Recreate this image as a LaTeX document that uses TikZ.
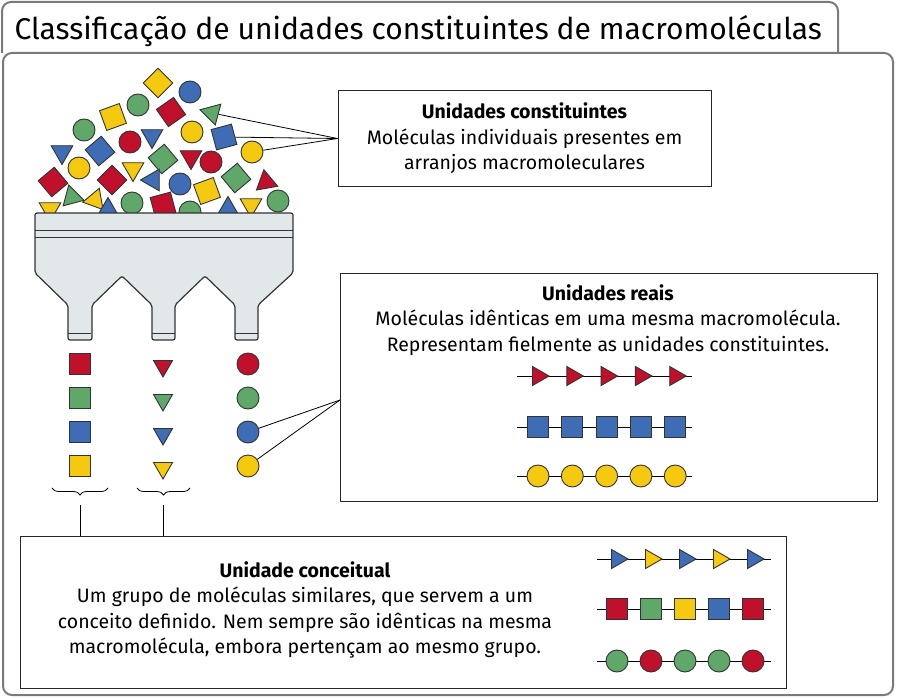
\documentclass[tikz,border=0pt]{standalone}
\usepackage{fontspec}
\setmainfont{Fira Sans}
\usetikzlibrary{shapes.geometric,decorations.pathreplacing}
\definecolor{cred}{HTML}{C0102C}
\definecolor{cgreen}{HTML}{5FA86A}
\definecolor{cblue}{HTML}{3E6DB5}
\definecolor{cyellow}{HTML}{F5C90F}
\definecolor{cfunnel}{HTML}{E2E7EA}
\definecolor{cframe}{HTML}{7A7A7A}
\begin{document}
\begin{tikzpicture}[x=1pt,y=-1pt,
    unit/.style={draw=black!80,line width=0.9pt,inner sep=0pt},
    dot/.style={unit,circle,minimum size=22pt},
    sqr/.style={unit,rectangle,minimum size=21pt},
    tri/.style={unit,regular polygon,regular polygon sides=3,minimum size=25pt},
    infobox/.style={draw=black!85,line width=1pt,inner sep=0pt},
    txt/.style={font={\fontsize{19.5}{25.5}\selectfont},align=center},
    chain/.style={line width=0.9pt}]
\useasboundingbox (0,0) rectangle (897,698);
% frame
\draw[cframe,line width=2pt,rounded corners=9] (2,53) -- (2,2) -- (838,2) -- (838,53);
\draw[cframe,line width=2pt,rounded corners=9] (3,53) -- (893,53) -- (893,695) -- (3,695) -- cycle;
\node[anchor=west,font={\fontsize{30}{32}\selectfont}] (title) at (11,31) {Classificação de unidades constituintes de macromoléculas};

% pile of units
\foreach \x/\y/\s/\c/\r in {
    158/83/sqr/cyellow/45, 190/92/dot/cblue/0, 138/105/dot/cgreen/0,
    171/112/sqr/cred/35, 113/117/sqr/cyellow/20, 84/130/dot/cgreen/0,
    152/136/tri/cblue/180, 192/132/dot/cyellow/0, 100/151/sqr/cblue/40,
    130/142/dot/cred/0, 62/152/tri/cblue/180, 163/159/sqr/cgreen/40,
    191/157/tri/cred/180, 211/162/dot/cred/0, 79/168/dot/cyellow/0,
    133/169/tri/cyellow/180, 53/182/sqr/cred/40, 112/180/sqr/cred/45,
    236/178/sqr/cgreen/40, 153/180/tri/cblue/-30, 180/184/dot/cblue/0,
    266/182/tri/cred/10, 207/191/sqr/cyellow/20, 72/197/tri/cgreen/15,
    95/200/tri/cyellow/-20, 132/203/dot/cgreen/0, 163/205/sqr/cred/15,
    278/201/dot/cgreen/0, 50/209/tri/cyellow/180, 108/210/tri/cblue/0,
    190/212/dot/cgreen/0, 228/209/tri/cblue/0, 251/205/tri/cyellow/180}
  \node[\s,fill=\c,rotate=\r] at (\x,\y) {};
\node[tri,fill=cgreen,rotate=195] (u1) at (212,113) {};
\node[sqr,fill=cblue,rotate=15] (u2) at (224,137) {};
\node[dot,fill=cyellow] (u3) at (252,152) {};

% funnel
\draw[fill=cfunnel,draw=black!80,line width=1.2pt,rounded corners=2]
  (35,213) -- (293,213) -- (293,273) -- (258,305) -- (258,340) -- (235,340)
  -- (235,305) -- (205,276) -- (175,305) -- (175,340) -- (152,340)
  -- (152,305) -- (122,276) -- (92,305) -- (92,340) -- (68,340)
  -- (68,305) -- (35,273) -- cycle;
\draw[black!80,line width=1pt] (35,230) -- (293,230) (35,237) -- (293,237);
\foreach \a in {68,152,235}
  \draw[black!80,line width=1pt] (\a,333) -- (\a+23,333);

% separated units
\foreach \c [count=\i] in {cred,cgreen,cblue,cyellow}{
  \node[sqr,fill=\c] (s\i) at (80,330+34*\i) {};
  \node[tri,fill=\c,rotate=180,minimum size=22pt] (t\i) at (163,332+34*\i) {};
  \node[dot,fill=\c] (c\i) at (248,330+34*\i) {};
}

% boxes
\node[infobox,minimum width=373pt,minimum height=95pt] (b1) at (524.5,138.5) {};
\node[txt] (b1text) at (b1) {\textbf{Unidades constituintes}\\Moléculas individuais presentes em\\arranjos macromoleculares};
\foreach \u in {u1,u2,u3} \draw[line width=0.8pt] (\u) -- (b1.west);

\node[infobox,minimum width=537pt,minimum height=228pt] (b2) at (608.5,387) {};
\node[txt,anchor=north] (b2text) at (608,281) {\textbf{Unidades reais}\\Moléculas idênticas em uma mesma macromolécula.\\Representam fielmente as unidades constituintes.};
\coordinate (p2) at (340,400);
\foreach \u in {c3,c4} \draw[line width=0.8pt] (\u) -- (p2);

\node[infobox,minimum width=766pt,minimum height=152pt] (b3) at (403,612) {};
\node[txt,anchor=north] (b3text) at (305,558) {\textbf{Unidade conceitual}\\Um grupo de moléculas similares, que servem a um\\conceito definido. Nem sempre são idênticas na mesma\\macromolécula, embora pertençam ao mesmo grupo.};

% braces
\draw[decorate,decoration={brace,mirror,amplitude=7pt},line width=0.8pt] (52,488) -- (108,488) coordinate[midway] (br1);
\draw[decorate,decoration={brace,mirror,amplitude=7pt},line width=0.8pt] (137,488) -- (190,488) coordinate[midway] (br2);
\coordinate (k1) at (80,505);
\coordinate (k2) at (163,505);
\draw[line width=0.8pt] (k1) -- (k1 |- b3.north);
\draw[line width=0.8pt] (k2) -- (k2 |- b3.north);

% chains in box 2
\draw[chain] (517,376) -- (692,376) (517,427) -- (692,427) (517,476) -- (692,476);
\foreach \i in {0,...,4}{
  \node[tri,fill=cred,rotate=-90,minimum size=22pt] (rt\i) at (538+34.3*\i,376) {};
  \node[sqr,fill=cblue] (rs\i) at (538+34.3*\i,427) {};
  \node[dot,fill=cyellow] (rc\i) at (538+34.3*\i,476) {};
}

% chains in box 3
\draw[chain] (597,559) -- (771,559) (597,609) -- (771,609) (597,661) -- (771,661);
\foreach \ct/\cs/\cc [count=\i from 0] in {cblue/cred/cgreen,cyellow/cgreen/cred,cblue/cyellow/cgreen,cyellow/cblue/cgreen,cblue/cred/cred}{
  \node[tri,fill=\ct,rotate=-90,minimum size=22pt] (kt\i) at (617+34*\i,559) {};
  \node[sqr,fill=\cs] (ks\i) at (617+34*\i,609) {};
  \node[dot,fill=\cc] (kc\i) at (617+34*\i,661) {};
}
\end{tikzpicture}
\end{document}
